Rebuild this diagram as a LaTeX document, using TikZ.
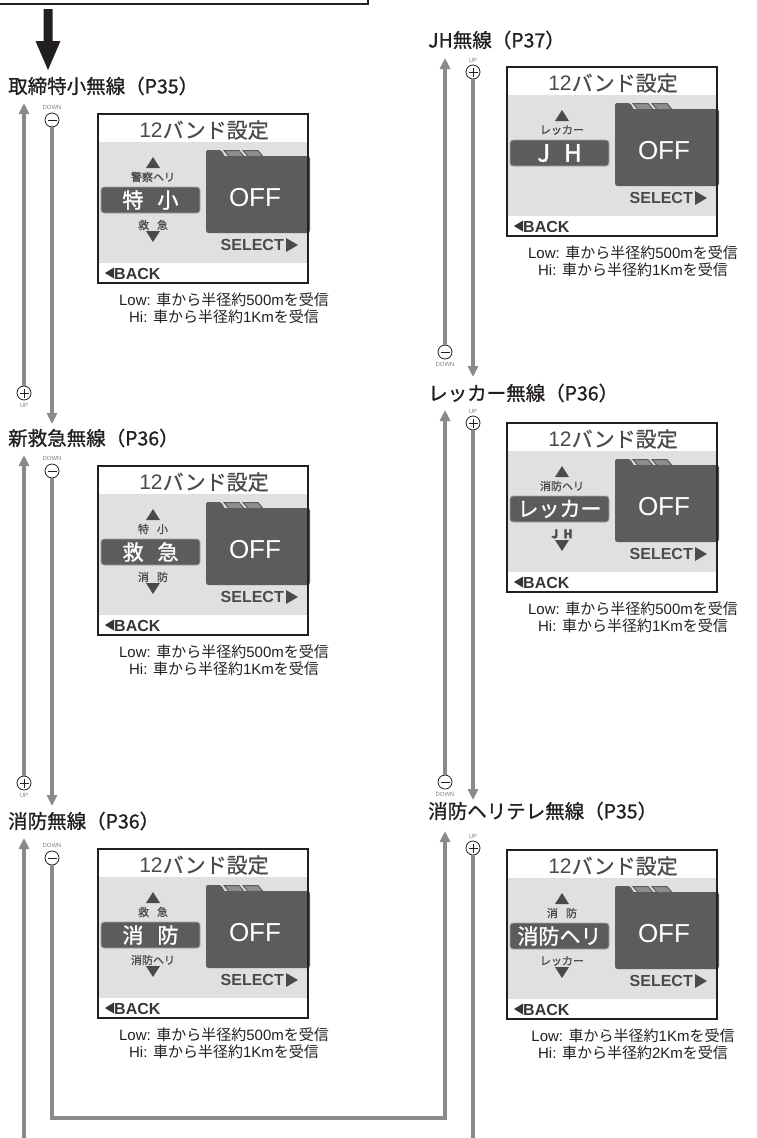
\documentclass[tikz,border=0pt]{standalone}
\usepackage{fontspec}
\setmainfont{Liberation Sans}
\newfontfamily\jp{Noto Sans CJK JP}
\newfontfamily\jpm[FakeBold=0.5]{Noto Sans CJK JP}
\newfontfamily\jpb[FakeBold=1.0]{Noto Sans CJK JP}
\newfontfamily\jpbb[FakeBold=1.4]{Noto Sans CJK JP}
\usetikzlibrary{arrows.meta}
\definecolor{ink}{HTML}{231F20}
\definecolor{lcdgray}{HTML}{E0E0E0}
\definecolor{folder}{HTML}{5A5C5D}
\definecolor{tabgray}{HTML}{8E8E8E}
\definecolor{lcdtext}{HTML}{4A4A4A}
\definecolor{argray}{HTML}{8A8A8A}
\newcommand\fs[1]{\fontsize{#1}{#1}\selectfont}
\newcommand\lowcap[1]{Low: {\jp 車から半径約}#1{\jp を受信}}
\newcommand\hicap[1]{Hi: {\jp 車から半径約}#1{\jp を受信}}
\newcommand\lcdpanel[8]{%
\begin{scope}[shift={(#1,#2)}]
 \fill[lcdgray] (0,28) rectangle (210,149);
 \fill[folder, rounded corners=2.5pt] (108,42) -- (108,119) -- (212,119) -- (212,42) -- cycle;
 \fill[folder, rounded corners=1.5pt] (108,46) -- (108,36) -- (123,36) -- (129,46) -- cycle;
 \filldraw[fill=tabgray, draw=folder, line width=1pt] (126,36.5) -- (141,36.5) -- (146,42.5) -- (131,42.5) -- cycle;
 \filldraw[fill=tabgray, draw=folder, line width=1pt] (145,36.5) -- (160,36.5) -- (165,42.5) -- (150,42.5) -- cycle;
 \node[lcdhead] (#3-head) at (106,16) {12{\jpm バンド設定}};
 \fill[lcdtext] (48,54) -- (62,54) -- (55,43) -- cycle;
 \node[lcdsmall] (#3-up) at (55,63) {#4};
 \node[selbox] (#3-sel) at (52.5,86) {#5};
 \if\relax\detokenize{#6}\relax\else
 \node[lcdsmall] (#3-dn) at (55,111) {#6};
 \fill[lcdtext] (48,117) -- (62,117) -- (55,128) -- cycle;
 \fi
 \node[offtext] (#3-off) at (157,84) {OFF};
 \node[seltext, anchor=east] (#3-select) at (186,131) {SELECT};
 \fill[lcdtext] (188,124) -- (200,131) -- (188,138) -- cycle;
 \fill[ink!90] (7,159) -- (16,153.5) -- (16,164.5) -- cycle;
 \node[backtext, anchor=west] (#3-back) at (16,159.5) {BACK};
 \node[lcdframe] (#3) at (105,84.5) {};
 \node[captext] (#3-low) at (126,186) {#7};
 \node[captext] (#3-hi) at (126,203) {#8};
\end{scope}}
\begin{document}
\begin{tikzpicture}[x=1pt,y=-1pt,
  lcdhead/.style={inner sep=0pt, text=lcdtext, font=\fs{21}},
  lcdsmall/.style={inner sep=0pt, text=lcdtext, font=\jpb\fs{11}},
  selbox/.style={fill=folder, draw=gray!70, line width=0.8pt, rounded corners=3pt,
     minimum width=99pt, minimum height=26pt, inner sep=0pt, text=white, font=\jpbb\fs{21}},
  offtext/.style={inner sep=0pt, text=white, font=\fs{26}},
  seltext/.style={inner sep=0pt, text=lcdtext, font=\bfseries\fs{16}},
  backtext/.style={inner sep=0pt, text=ink!90, font=\bfseries\fs{16}},
  lcdframe/.style={draw=ink, line width=2pt, minimum width=210pt, minimum height=169pt, inner sep=0pt},
  captext/.style={inner sep=0pt, text=ink, font=\fs{15}},
  ttl/.style={inner sep=0pt, anchor=west, text=ink, font=\fs{19.5}},
  tiny/.style={inner sep=0pt, text=gray, font=\fs{6}},
  pm/.style={circle, draw=ink, line width=0.8pt, minimum size=14pt, inner sep=0pt, fill=white},
  plus/.style={pm, path picture={\draw[ink, line width=0.8pt]
     ([xshift=-4.5pt]path picture bounding box.center) -- ([xshift=4.5pt]path picture bounding box.center)
     ([yshift=-4.5pt]path picture bounding box.center) -- ([yshift=4.5pt]path picture bounding box.center);}},
  minus/.style={pm, path picture={\draw[ink, line width=0.8pt]
     ([xshift=-4.5pt]path picture bounding box.center) -- ([xshift=4.5pt]path picture bounding box.center);}},
  connline/.style={draw=argray, line width=3.5pt, line join=miter},
  conn/.style={connline, -{Triangle[width=10pt,length=11pt]}}
]
\useasboundingbox (0,0) rectangle (757,1138);
% top box and big arrow
\draw[ink, line width=2pt] (-2,4) -- (368,4) -- (368,-2);
\fill[ink] (43.5,9) -- (52.5,9) -- (52.5,41) -- (60.5,41) -- (48,70) -- (35.5,41) -- (43.5,41) -- cycle;

% titles
\node[ttl] (t1) at (8,86) {\jpb 取締特小無線（P35）};
\node[ttl] (t2) at (8,438) {\jpb 新救急無線（P36）};
\node[ttl] (t3) at (8,821) {\jpb 消防無線（P36）};
\node[ttl] (t4) at (428,40) {\jpb JH無線（P37）};
\node[ttl] (t5) at (428,393) {\jpb レッカー無線（P36）};
\node[ttl] (t6) at (428,811) {\jpb 消防ヘリテレ無線（P35）};

% panels
\lcdpanel{98}{114}{s1}{警察ヘリ}{特\hspace{14pt}小}{救\hspace{8pt}急}{\lowcap{500m}}{\hicap{1Km}}
\lcdpanel{98}{466}{s2}{特\hspace{8pt}小}{救\hspace{14pt}急}{消\hspace{8pt}防}{\lowcap{500m}}{\hicap{1Km}}
\lcdpanel{98}{849}{s3}{救\hspace{8pt}急}{消\hspace{14pt}防}{消防ヘリ}{\lowcap{500m}}{\hicap{1Km}}
\lcdpanel{507}{67}{s4}{レッカー}{{\fs{24}J\hspace{14pt}H}}{}{\lowcap{500m}}{\hicap{1Km}}
\lcdpanel{507}{423}{s5}{消防ヘリ}{{\jpb レッカー}}{{\bfseries\fs{12}J\hspace{5pt}H}}{\lowcap{500m}}{\hicap{1Km}}
\lcdpanel{507}{850}{s6}{消\hspace{8pt}防}{{\jpb 消防ヘリ}}{レッカー}{\lowcap{1Km}}{\hicap{2Km}}

% left column buttons
\node[minus] (m1) at (52,120) {}; \node[tiny] (m1l) at (52,107) {DOWN};
\node[plus] (p1) at (24,393) {};  \node[tiny] (p1l) at (24,405) {UP};
\node[minus] (m2) at (52,471) {}; \node[tiny] (m2l) at (52,458) {DOWN};
\node[plus] (p2) at (24,783) {};  \node[tiny] (p2l) at (24,795) {UP};
\node[minus] (m3) at (52,858) {}; \node[tiny] (m3l) at (52,845) {DOWN};
% right column buttons
\node[plus] (p4) at (473,72) {};  \node[tiny] (p4l) at (473,60) {UP};
\node[minus] (m4) at (445,352) {}; \node[tiny] (m4l) at (445,364) {DOWN};
\node[plus] (p5) at (473,423) {}; \node[tiny] (p5l) at (473,411) {UP};
\node[minus] (m5) at (445,782) {}; \node[tiny] (m5l) at (445,794) {DOWN};
\node[plus] (p6) at (473,848) {}; \node[tiny] (p6l) at (473,836) {UP};

% arrow end points
\coordinate (u1) at (24,103);  \coordinate (d1) at (52,424);
\coordinate (u2) at (24,455);  \coordinate (d2) at (52,806);
\coordinate (u3) at (24,838);  \coordinate (b1) at (24,1142);
\coordinate (k1) at (52,1118); \coordinate (k2) at (445,1118);
\coordinate (u4) at (445,58);  \coordinate (d4) at (473,377);
\coordinate (u5) at (445,410); \coordinate (d5) at (473,800);
\coordinate (u6) at (445,831); \coordinate (b2) at (473,1142);

% connectors
\draw[conn] (p1) -- (u1);
\draw[conn] (m1) -- (d1);
\draw[conn] (p2) -- (u2);
\draw[conn] (m2) -- (d2);
\draw[conn] (b1) -- (u3);
\draw[conn] (m3) -- (k1) -- (k2) -- (u6);
\draw[conn] (m4) -- (u4);
\draw[conn] (p4) -- (d4);
\draw[conn] (m5) -- (u5);
\draw[conn] (p5) -- (d5);
\draw[connline] (p6) -- (b2);
\end{tikzpicture}
\end{document}
